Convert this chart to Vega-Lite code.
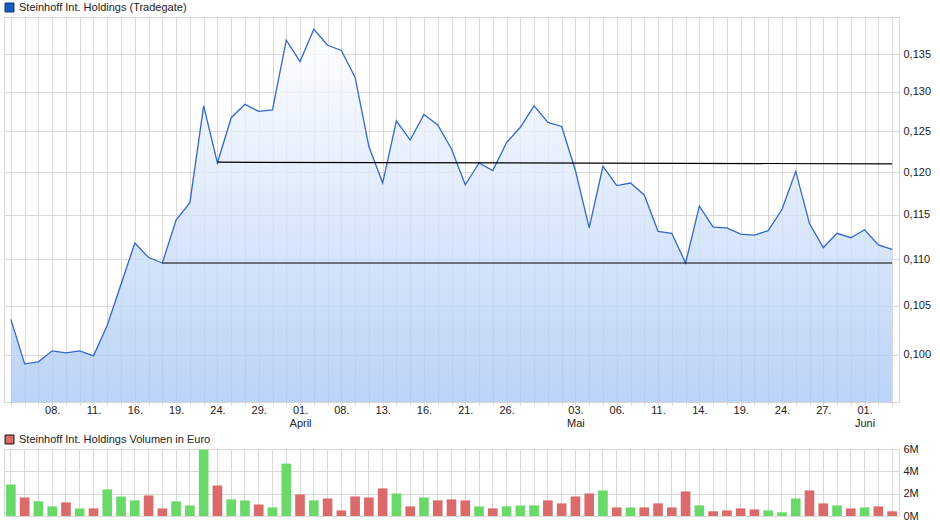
{
  "$schema": "https://vega.github.io/schema/vega-lite/v6.json",
  "padding": {"left": 3, "top": 1, "right": 0, "bottom": 0},
  "background": "white",
  "config": {
    "font": "Liberation Sans",
    "view": {"stroke": "#d6d6d6"},
    "concat": {"spacing": 4},
    "axis": {"labelFont": "Liberation Sans", "labelFontSize": 11, "labelColor": "#222222", "gridColor": "#d9d9d9", "gridOpacity": 1},
    "legend": {"orient": "top", "symbolType": "square", "symbolSize": 80, "symbolStrokeWidth": 1, "symbolOpacity": 1, "labelFont": "Liberation Sans", "labelFontSize": 11, "labelColor": "#222222", "labelLimit": 0, "offset": 3, "padding": 0, "labelOffset": 4}
  },
  "datasets": {
    "px": [
      {"d": "2021-03-03", "p": 0.1036, "v": 2820000, "dir": "up"},
      {"d": "2021-03-04", "p": 0.0991, "v": 1660000, "dir": "down"},
      {"d": "2021-03-05", "p": 0.0993, "v": 1310000, "dir": "up"},
      {"d": "2021-03-08", "p": 0.1004, "v": 860000, "dir": "up"},
      {"d": "2021-03-09", "p": 0.1002, "v": 1220000, "dir": "down"},
      {"d": "2021-03-10", "p": 0.1004, "v": 680000, "dir": "up"},
      {"d": "2021-03-11", "p": 0.0999, "v": 680000, "dir": "down"},
      {"d": "2021-03-12", "p": 0.1030, "v": 2380000, "dir": "up"},
      {"d": "2021-03-15", "p": 0.1073, "v": 1750000, "dir": "up"},
      {"d": "2021-03-16", "p": 0.1118, "v": 1400000, "dir": "up"},
      {"d": "2021-03-17", "p": 0.1102, "v": 1840000, "dir": "down"},
      {"d": "2021-03-18", "p": 0.1096, "v": 680000, "dir": "down"},
      {"d": "2021-03-19", "p": 0.1144, "v": 1310000, "dir": "up"},
      {"d": "2021-03-22", "p": 0.1164, "v": 950000, "dir": "up"},
      {"d": "2021-03-23", "p": 0.1282, "v": 5940000, "dir": "up"},
      {"d": "2021-03-24", "p": 0.1211, "v": 2730000, "dir": "down"},
      {"d": "2021-03-25", "p": 0.1267, "v": 1490000, "dir": "up"},
      {"d": "2021-03-26", "p": 0.1284, "v": 1400000, "dir": "up"},
      {"d": "2021-03-29", "p": 0.1275, "v": 1040000, "dir": "down"},
      {"d": "2021-03-30", "p": 0.1277, "v": 770000, "dir": "up"},
      {"d": "2021-03-31", "p": 0.1369, "v": 4690000, "dir": "up"},
      {"d": "2021-04-01", "p": 0.1340, "v": 1930000, "dir": "down"},
      {"d": "2021-04-06", "p": 0.1384, "v": 1400000, "dir": "up"},
      {"d": "2021-04-07", "p": 0.1362, "v": 1570000, "dir": "down"},
      {"d": "2021-04-08", "p": 0.1355, "v": 500000, "dir": "down"},
      {"d": "2021-04-09", "p": 0.1319, "v": 1750000, "dir": "down"},
      {"d": "2021-04-12", "p": 0.1231, "v": 1660000, "dir": "down"},
      {"d": "2021-04-13", "p": 0.1187, "v": 2470000, "dir": "down"},
      {"d": "2021-04-14", "p": 0.1263, "v": 2020000, "dir": "up"},
      {"d": "2021-04-15", "p": 0.1239, "v": 860000, "dir": "down"},
      {"d": "2021-04-16", "p": 0.1271, "v": 1660000, "dir": "up"},
      {"d": "2021-04-19", "p": 0.1258, "v": 1400000, "dir": "down"},
      {"d": "2021-04-20", "p": 0.1228, "v": 1490000, "dir": "down"},
      {"d": "2021-04-21", "p": 0.1185, "v": 1400000, "dir": "down"},
      {"d": "2021-04-22", "p": 0.1211, "v": 860000, "dir": "up"},
      {"d": "2021-04-23", "p": 0.1202, "v": 680000, "dir": "down"},
      {"d": "2021-04-26", "p": 0.1236, "v": 860000, "dir": "up"},
      {"d": "2021-04-27", "p": 0.1255, "v": 950000, "dir": "up"},
      {"d": "2021-04-28", "p": 0.1282, "v": 950000, "dir": "up"},
      {"d": "2021-04-29", "p": 0.1261, "v": 1400000, "dir": "down"},
      {"d": "2021-04-30", "p": 0.1256, "v": 1130000, "dir": "down"},
      {"d": "2021-05-03", "p": 0.1202, "v": 1750000, "dir": "down"},
      {"d": "2021-05-04", "p": 0.1135, "v": 2020000, "dir": "down"},
      {"d": "2021-05-05", "p": 0.1207, "v": 2290000, "dir": "up"},
      {"d": "2021-05-06", "p": 0.1184, "v": 770000, "dir": "down"},
      {"d": "2021-05-07", "p": 0.1187, "v": 770000, "dir": "up"},
      {"d": "2021-05-10", "p": 0.1173, "v": 770000, "dir": "down"},
      {"d": "2021-05-11", "p": 0.1131, "v": 1130000, "dir": "down"},
      {"d": "2021-05-12", "p": 0.1129, "v": 770000, "dir": "down"},
      {"d": "2021-05-13", "p": 0.1096, "v": 2200000, "dir": "down"},
      {"d": "2021-05-14", "p": 0.1160, "v": 950000, "dir": "up"},
      {"d": "2021-05-17", "p": 0.1136, "v": 420000, "dir": "down"},
      {"d": "2021-05-18", "p": 0.1135, "v": 500000, "dir": "down"},
      {"d": "2021-05-19", "p": 0.1128, "v": 680000, "dir": "down"},
      {"d": "2021-05-20", "p": 0.1127, "v": 590000, "dir": "down"},
      {"d": "2021-05-21", "p": 0.1132, "v": 500000, "dir": "up"},
      {"d": "2021-05-24", "p": 0.1156, "v": 330000, "dir": "up"},
      {"d": "2021-05-25", "p": 0.1201, "v": 1570000, "dir": "up"},
      {"d": "2021-05-26", "p": 0.1140, "v": 2290000, "dir": "down"},
      {"d": "2021-05-27", "p": 0.1113, "v": 1130000, "dir": "down"},
      {"d": "2021-05-28", "p": 0.1129, "v": 950000, "dir": "up"},
      {"d": "2021-05-31", "p": 0.1124, "v": 680000, "dir": "down"},
      {"d": "2021-06-01", "p": 0.1133, "v": 770000, "dir": "up"},
      {"d": "2021-06-02", "p": 0.1116, "v": 860000, "dir": "down"},
      {"d": "2021-06-03", "p": 0.1111, "v": 420000, "dir": "down"}
    ],
    "sr": [
      {"d": "2021-03-24", "p": 0.1212, "id": "upper"},
      {"d": "2021-06-03", "p": 0.1210, "id": "upper"},
      {"d": "2021-03-18", "p": 0.1096, "id": "lower"},
      {"d": "2021-06-03", "p": 0.1096, "id": "lower"}
    ]
  },
  "vconcat": [
    {
      "width": 895,
      "height": 385,
      "data": {"name": "px"},
      "layer": [
        {
          "mark": {"type": "area", "opacity": 0.8, "clip": true, "color": {"gradient": "linear", "x1": 0, "y1": 0, "x2": 0, "y2": 1, "stops": [{"offset": 0, "color": "#ffffff"}, {"offset": 1, "color": "#a9c8f5"}]}},
          "encoding": {
            "x": {"field": "d", "type": "ordinal", "title": null, "scale": {"type": "point", "padding": 0.5},
              "axis": {"orient": "bottom", "grid": true, "ticks": true, "tickSize": 3, "tickColor": "#d9d9d9", "domain": false, "labelPadding": -1, "labelLineHeight": 13, "labelOverlap": false, "labelAngle": 0,
                "labelExpr": "indexof(['2021-03-08','2021-03-11','2021-03-16','2021-03-19','2021-03-24','2021-03-29','2021-04-08','2021-04-13','2021-04-16','2021-04-21','2021-04-26','2021-05-06','2021-05-11','2021-05-14','2021-05-19','2021-05-24','2021-05-27'], datum.value) >= 0 ? substring(datum.value, 8, 10) + '.' : datum.value == '2021-04-01' ? ['01.', 'April'] : datum.value == '2021-05-03' ? ['03.', 'Mai'] : datum.value == '2021-06-01' ? ['01.', 'Juni'] : ''"}},
            "y": {"field": "p", "type": "quantitative", "title": null, "scale": {"type": "log", "domain": [0.0954, 0.1401], "nice": false},
              "axis": {"orient": "right", "grid": true, "ticks": false, "domain": false, "labelPadding": 4, "labelOverlap": false, "tickCount": 8, "values": [0.1, 0.105, 0.11, 0.115, 0.12, 0.125, 0.13, 0.135], "labelExpr": "replace(format(datum.value, '.3f'), '.', ',')"}},
            "y2": {"datum": 0.0954}
          }
        },
        {
          "mark": {"type": "line", "color": "#3468c8", "strokeWidth": 1.3},
          "encoding": {"x": {"field": "d", "type": "ordinal"}, "y": {"field": "p", "type": "quantitative"}}
        },
        {
          "data": {"name": "sr"},
          "mark": {"type": "line", "color": "#000000", "strokeWidth": 1.2},
          "encoding": {"x": {"field": "d", "type": "ordinal"}, "y": {"field": "p", "type": "quantitative"}, "detail": {"field": "id"}}
        },
        {
          "mark": {"type": "point", "filled": true, "size": 0},
          "encoding": {"x": {"field": "d", "type": "ordinal"}, "y": {"field": "p", "type": "quantitative"},
            "fill": {"datum": "Steinhoff Int. Holdings (Tradegate)", "scale": {"range": ["#1c5bc0"]}, "legend": {"title": null, "symbolStrokeColor": "#0d2f70"}}}
        }
      ]
    },
    {
      "width": 895,
      "height": 67,
      "data": {"name": "px"},
      "layer": [
        {
          "mark": {"type": "bar"},
          "encoding": {
            "x": {"field": "d", "type": "ordinal", "title": null, "scale": {"type": "band", "paddingInner": 0.3, "paddingOuter": 0.15},
              "axis": {"labels": false, "ticks": false, "domain": false, "grid": true, "bandPosition": 0.5}},
            "y": {"field": "v", "type": "quantitative", "title": null, "scale": {"domain": [0, 6000000], "nice": false},
              "axis": {"orient": "right", "values": [0, 2000000, 4000000, 6000000], "tickCount": 4, "labelExpr": "format(datum.value / 1000000, 'd') + 'M'", "labelOverlap": false, "ticks": false, "domain": false, "grid": true, "labelPadding": 4}},
            "color": {"field": "dir", "type": "nominal", "scale": {"domain": ["up", "down"], "range": ["#6ad96a", "#db6a6a"]}, "legend": null}
          }
        },
        {
          "mark": {"type": "point", "filled": true, "size": 0},
          "encoding": {"x": {"field": "d", "type": "ordinal"}, "y": {"field": "v", "type": "quantitative"},
            "fill": {"datum": "Steinhoff Int. Holdings Volumen in Euro", "scale": {"range": ["#db6a6a"]}, "legend": {"title": null, "symbolStrokeColor": "#111111"}}}
        }
      ]
    }
  ],
  "resolve": {"scale": {"x": "independent", "y": "independent", "color": "independent", "fill": "independent"}, "legend": {"fill": "independent", "color": "independent"}}
}
